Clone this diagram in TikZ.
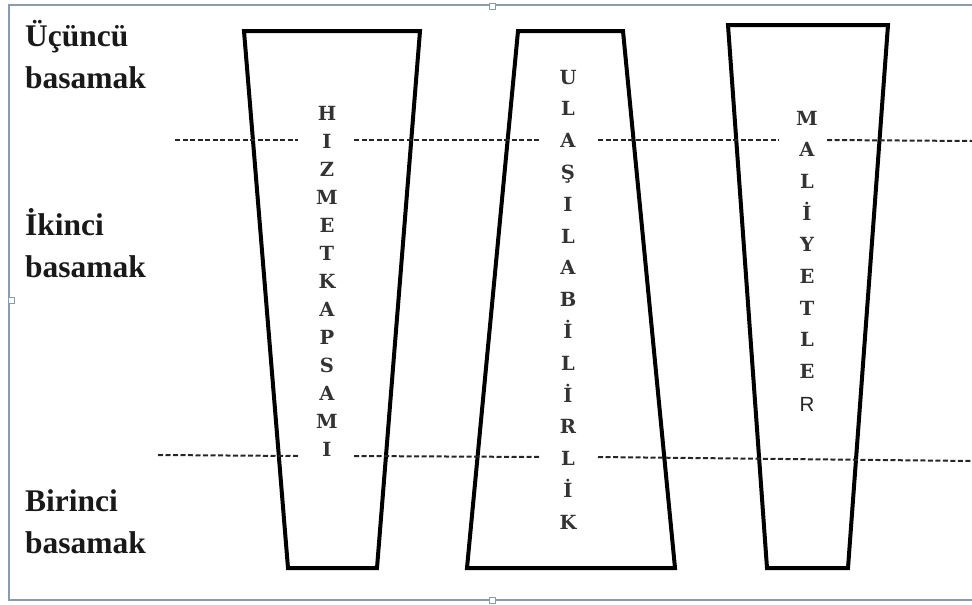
\documentclass[tikz,border=0pt]{standalone}
\usepackage{fontspec}
\setmainfont{Liberation Serif}[BoldFont={Liberation Serif Bold}]
\newfontfamily\slabfont{DejaVu Serif}[BoldFont={DejaVu Serif Bold}]
\newfontfamily\plainsans{Liberation Sans}
\begin{document}
\begin{tikzpicture}[x=1pt,y=-1pt,
  frameline/.style={draw=frameblue,line width=1.6pt},
  handle/.style={draw=frameblue,fill=white,line width=0.8pt,minimum size=6pt,inner sep=0pt},
  funnel/.style={draw=black,line width=4pt,line join=miter},
  level/.style={draw=black!85,line width=2pt,dash pattern=on 5pt off 2.5pt},
  tier/.style={font={\bfseries\fontsize{31.5}{42}\selectfont},text=black!90,align=left,anchor=base west,inner sep=0pt},
  letter/.style={font={\slabfont\bfseries\fontsize{19.5}{20}\selectfont},text=black!80,anchor=base,inner sep=0pt},
  sansletter/.style={font={\plainsans\fontsize{20.5}{20}\selectfont},text=black!85,anchor=base,inner sep=0pt}]
\definecolor{frameblue}{HTML}{8A9BAB}
\useasboundingbox (0,0) rectangle (972,605);

% outer frame with its selection handles
\coordinate (ftr) at (972,5);
\coordinate (ftl) at (9,5);
\coordinate (fbl) at (9,600);
\coordinate (fbr) at (972,600);
\draw[frameline] (ftr) -- (ftl) -- (fbl) -- (fbr);
\node[handle] (htop) at (492,6) {};
\node[handle] (hbot) at (492,600) {};
\node[handle] (hleft) at (11,300) {};

% tier labels (anchored on the baseline of their last line)
\node[tier] (t3) at (25,88) {Üçüncü\\basamak};
\node[tier] (t2) at (25,277) {İkinci\\basamak};
\node[tier] (t1) at (25,553) {Birinci\\basamak};

% the three funnels
\draw[funnel] (244,31) -- (420,31) -- (377,568) -- (288,568) -- cycle;
\draw[funnel] (518,31) -- (623,31) -- (675,568) -- (467,568) -- cycle;
\draw[funnel] (728,25) -- (888,25) -- (848,568) -- (767,568) -- cycle;

% level boundaries (interrupted by the column captions)
\coordinate (ua) at (175,140);  \coordinate (ub) at (298,140);
\coordinate (uc) at (354,140);  \coordinate (ud) at (539,140);
\coordinate (ue) at (598,140);  \coordinate (uf) at (779,140);
\coordinate (ug) at (827,140);  \coordinate (uh) at (972,141);
\draw[level] (ua) -- (ub);
\draw[level] (uc) -- (ud);
\draw[level] (ue) -- (uf);
\draw[level] (ug) -- (uh);
\coordinate (la) at (158,455);  \coordinate (lb) at (298,456);
\coordinate (lc) at (354,456);  \coordinate (ld) at (540,457);
\coordinate (le) at (598,457);  \coordinate (lf) at (972,461);
\draw[level] (la) -- (lb);
\draw[level] (lc) -- (ld);
\draw[level] (le) -- (lf);

% vertical captions
\foreach \ch [count=\i] in {H,I,Z,M,E,T,K,A,P,S,A,M,I}
  \node[letter] (hk\i) at (327,{120+28*(\i-1)}) {\ch};
\foreach \ch [count=\i] in {U,L,A,Ş,I,L,A,B,İ,L,İ,R,L,İ,K}
  \node[letter] (ul\i) at (568,{84+31.8*(\i-1)}) {\ch};
\foreach \ch [count=\i] in {M,A,L,İ,Y,E,T,L,E}
  \node[letter] (ma\i) at (807,{125+31.7*(\i-1)}) {\ch};
\node[sansletter] (ma10) at (807,411) {R};
\end{tikzpicture}
\end{document}
